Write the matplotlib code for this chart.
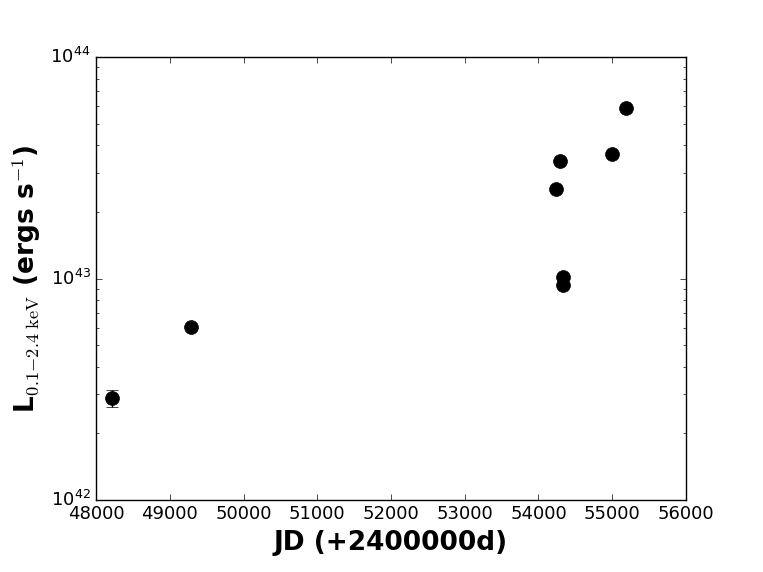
import numpy as np
import matplotlib
matplotlib.use('Agg')
import matplotlib.pyplot as plt

plt.style.use('classic')
plt.rcParams['font.family'] = ['DejaVu Sans']

# data
jd = [48217, 49288, 54237, 54292, 54332, 54332, 54997, 55186]
lum = [2.89e42, 6.04e42, 2.54e43, 3.39e43, 1.02e43, 9.35e42, 3.65e43, 5.89e43]
lum_err = [0.25e42, 0.1e42, 0.3e42, 0.3e42, 0.1e42, 0.1e42, 0.3e42, 0.4e42]

fig = plt.figure(figsize=(7.63, 5.72), dpi=100, facecolor='white')
ax = fig.add_axes([0.126, 0.126, 0.773, 0.774])

ax.errorbar(jd, lum, yerr=lum_err, fmt='o', color='black', ecolor='black',
            markersize=10, capsize=4, elinewidth=1)
ax.set_yscale('log')
ax.set_xlim(48000, 56000)
ax.set_ylim(1e42, 1e44)
ax.tick_params(labelsize=13)

ax.set_xlabel('JD (+2400000d)', fontsize=19, fontweight='bold')
ax.set_ylabel(r'L$_{0.1\mathrm{-}2.4\ \mathrm{keV}}$ (ergs s$^{-1}$)',
              fontsize=19, fontweight='bold', math_fontfamily='cm')

fig.savefig('out.png', dpi=100, facecolor='white')
